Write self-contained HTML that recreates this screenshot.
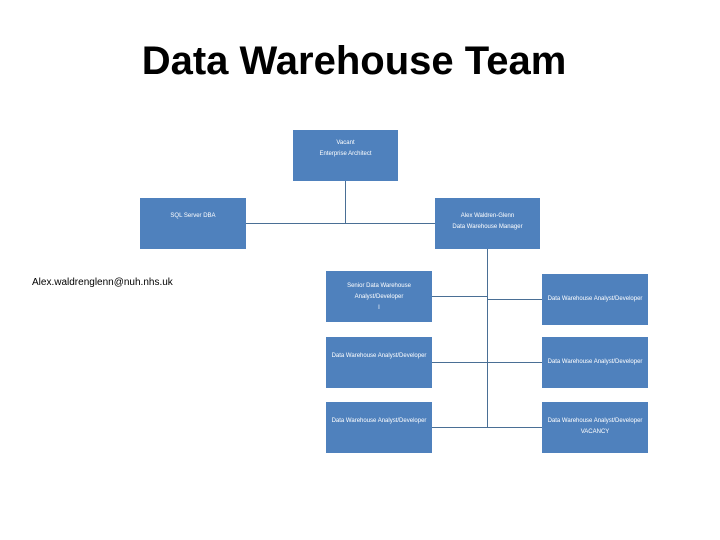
<!DOCTYPE html>
<html><head><meta charset="utf-8"><style>
body{margin:0;width:720px;height:540px;background:#fff;position:relative;overflow:hidden;font-family:"Liberation Sans",sans-serif}
.t{position:absolute;left:0;width:708px;top:38px;text-align:center;font-size:40px;font-weight:bold;color:#000;line-height:46px}
.b{position:absolute;background:#4f81bd;color:#fff;font-size:6px;text-align:center;display:flex;flex-direction:column;justify-content:center;line-height:11px;white-space:nowrap}
.l{position:absolute;background:#4a6f95}
.e{position:absolute;left:32px;top:277px;font-size:10px;color:#000}
</style></head><body>
<div class="t">Data Warehouse Team</div>
<div class="b" style="left:293px;top:130px;width:105px;height:51px;justify-content:flex-start;padding-top:8px;box-sizing:border-box">Vacant<br>Enterprise Architect</div>
<div class="b" style="left:140px;top:198px;width:106px;height:51px;justify-content:flex-start;padding-top:13px;box-sizing:border-box">SQL Server DBA</div>
<div class="b" style="left:435px;top:198px;width:105px;height:51px;justify-content:flex-start;padding-top:13px;box-sizing:border-box">Alex Waldren-Glenn<br>Data Warehouse Manager</div>
<div class="b" style="left:326px;top:271px;width:106px;height:51px;justify-content:flex-start;padding-top:10px;box-sizing:border-box">Senior Data Warehouse<br>Analyst/Developer<br>I</div>
<div class="b" style="left:542px;top:274px;width:106px;height:51px">Data Warehouse Analyst/Developer</div>
<div class="b" style="left:326px;top:337px;width:106px;height:51px;justify-content:flex-start;padding-top:14px;box-sizing:border-box">Data Warehouse Analyst/Developer</div>
<div class="b" style="left:542px;top:337px;width:106px;height:51px">Data Warehouse Analyst/Developer</div>
<div class="b" style="left:326px;top:402px;width:106px;height:51px;justify-content:flex-start;padding-top:14px;box-sizing:border-box">Data Warehouse Analyst/Developer</div>
<div class="b" style="left:542px;top:402px;width:106px;height:51px;justify-content:flex-start;padding-top:14px;box-sizing:border-box">Data Warehouse Analyst/Developer<br>VACANCY</div>
<div class="l" style="left:345px;top:181px;width:1px;height:42px"></div>
<div class="l" style="left:246px;top:223px;width:189px;height:1px"></div>
<div class="l" style="left:487px;top:249px;width:1px;height:178px"></div>
<div class="l" style="left:432px;top:296px;width:55px;height:1px"></div>
<div class="l" style="left:487px;top:299px;width:55px;height:1px"></div>
<div class="l" style="left:432px;top:362px;width:110px;height:1px"></div>
<div class="l" style="left:432px;top:427px;width:110px;height:1px"></div>
<div class="e">Alex.waldrenglenn@nuh.nhs.uk</div>
</body></html>
